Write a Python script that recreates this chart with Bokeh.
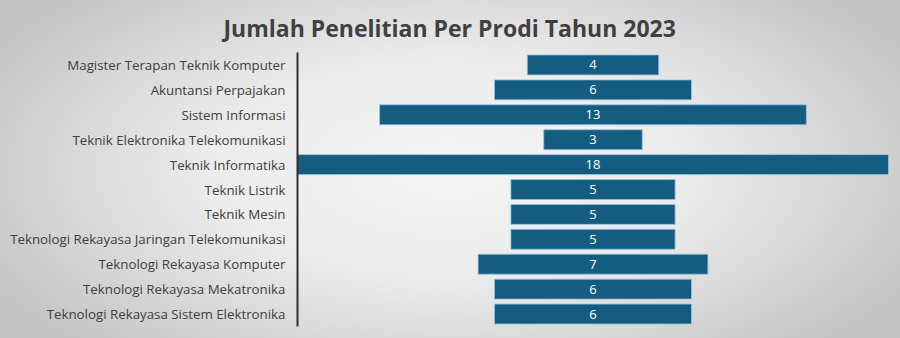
from bokeh.plotting import figure
from bokeh.models import ColumnDataSource, FactorRange, Title, Range1d
from bokeh.core.properties import value
from bokeh.embed import file_html
from bokeh.resources import INLINE

prodi = [
    "Magister Terapan Teknik Komputer",
    "Akuntansi Perpajakan",
    "Sistem Informasi",
    "Teknik Elektronika Telekomunikasi",
    "Teknik Informatika",
    "Teknik Listrik",
    "Teknik Mesin",
    "Teknologi Rekayasa Jaringan Telekomunikasi",
    "Teknologi Rekayasa Komputer",
    "Teknologi Rekayasa Mekatronika",
    "Teknologi Rekayasa Sistem Elektronika",
]
jumlah = [4, 6, 13, 3, 18, 5, 5, 5, 7, 6, 6]

src = ColumnDataSource(dict(
    prodi=prodi,
    jumlah=jumlah,
    left=[-v / 2 for v in jumlah],
    right=[v / 2 for v in jumlah],
    mid=[0] * len(jumlah),
    lab=[str(v) for v in jumlah],
))

p = figure(
    width=900, height=338,
    y_range=FactorRange(factors=list(reversed(prodi))),
    x_range=Range1d(-9, 9),
    output_backend="svg", toolbar_location=None,
    min_border_left=297, min_border_right=12, min_border_top=50, min_border_bottom=12,
)
p.styles = {"background": "radial-gradient(ellipse 60% 75% at 50% 50%, #f5f5f5 0%, #ebebeb 45%, #c2c2c2 100%)"}
p.border_fill_color = None
p.background_fill_color = None
p.outline_line_color = None

t = Title(text="Jumlah Penelitian Per Prodi Tahun 2023", align="left", offset=-74,
          text_font="Open Sans", text_font_size="23px", text_font_style="bold",
          text_color="#404040", standoff=18)
p.add_layout(t, "above")
p.title.visible = False

p.hbar(y="prodi", left="left", right="right", height=0.8, source=src,
       fill_color="#155d80", line_color="#8fc3de", line_width=0.8)
p.text(x="mid", y="prodi", text="lab", source=src, text_align="center",
       text_baseline="middle", text_color="white", text_font=value("Open Sans"),
       text_font_size="13px")

p.xaxis.visible = False
p.yaxis.axis_line_color = "#303030"
p.yaxis.axis_line_width = 2
p.yaxis.major_tick_line_color = None
p.yaxis.minor_tick_line_color = None
p.yaxis.major_label_text_font = "Open Sans"
p.yaxis.major_label_text_font_size = "13.3px"
p.yaxis.major_label_text_color = "#404040"
p.yaxis.major_label_standoff = 6
p.xgrid.grid_line_color = None
p.ygrid.grid_line_color = None

open("out.html", "w").write(file_html(p, INLINE))
